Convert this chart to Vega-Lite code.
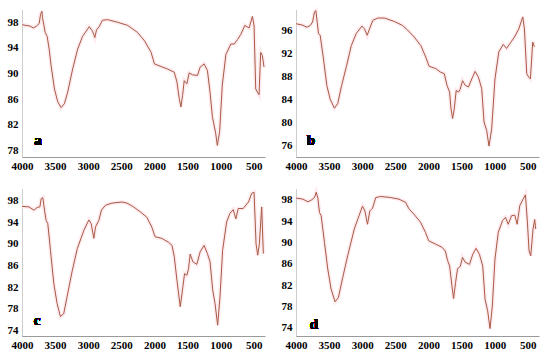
{
  "$schema": "https://vega.github.io/schema/vega-lite/v6.json",
  "background": "white",
  "padding": {"left": 7, "top": 2, "right": 4, "bottom": 2},
  "datasets": {
    "a": [
      {"wn": 4000, "t": 97.6}, {"wn": 3880, "t": 97.4}, {"wn": 3830, "t": 97.1}, {"wn": 3780, "t": 97.4},
      {"wn": 3740, "t": 97.8}, {"wn": 3720, "t": 99.2}, {"wn": 3700, "t": 99.7}, {"wn": 3690, "t": 98.7},
      {"wn": 3650, "t": 96.4}, {"wn": 3620, "t": 95.8}, {"wn": 3590, "t": 93.8}, {"wn": 3560, "t": 91.2},
      {"wn": 3510, "t": 87.6}, {"wn": 3460, "t": 85.6}, {"wn": 3410, "t": 84.7}, {"wn": 3360, "t": 85.3},
      {"wn": 3310, "t": 87.1}, {"wn": 3235, "t": 90.7}, {"wn": 3160, "t": 93.8}, {"wn": 3085, "t": 95.8},
      {"wn": 2985, "t": 97.3}, {"wn": 2935, "t": 96.6}, {"wn": 2900, "t": 95.6}, {"wn": 2875, "t": 96.8},
      {"wn": 2835, "t": 97.3}, {"wn": 2785, "t": 98.3}, {"wn": 2710, "t": 98.4}, {"wn": 2560, "t": 98.0},
      {"wn": 2405, "t": 97.5}, {"wn": 2255, "t": 96.4}, {"wn": 2150, "t": 95.1}, {"wn": 2050, "t": 93.3},
      {"wn": 2000, "t": 91.5}, {"wn": 1900, "t": 91.1}, {"wn": 1800, "t": 90.7}, {"wn": 1700, "t": 90.2},
      {"wn": 1660, "t": 88.7}, {"wn": 1625, "t": 86.1}, {"wn": 1600, "t": 84.8}, {"wn": 1575, "t": 86.6},
      {"wn": 1550, "t": 88.9}, {"wn": 1510, "t": 88.4}, {"wn": 1475, "t": 90.1}, {"wn": 1425, "t": 89.8},
      {"wn": 1350, "t": 89.7}, {"wn": 1310, "t": 91.0}, {"wn": 1250, "t": 91.5}, {"wn": 1200, "t": 90.5},
      {"wn": 1160, "t": 87.1}, {"wn": 1125, "t": 83.3}, {"wn": 1075, "t": 80.7}, {"wn": 1050, "t": 78.8},
      {"wn": 1015, "t": 81.0}, {"wn": 975, "t": 88.2}, {"wn": 920, "t": 93.0}, {"wn": 845, "t": 94.6},
      {"wn": 795, "t": 94.6}, {"wn": 745, "t": 95.3}, {"wn": 695, "t": 96.1}, {"wn": 635, "t": 97.5},
      {"wn": 570, "t": 97.1}, {"wn": 520, "t": 98.9}, {"wn": 495, "t": 97.4}, {"wn": 470, "t": 87.6},
      {"wn": 445, "t": 87.1}, {"wn": 420, "t": 86.7}, {"wn": 395, "t": 93.3}, {"wn": 370, "t": 92.8},
      {"wn": 345, "t": 91.0}
    ],
    "b": [
      {"wn": 4000, "t": 97.2}, {"wn": 3910, "t": 97.0}, {"wn": 3835, "t": 96.6}, {"wn": 3785, "t": 96.9},
      {"wn": 3750, "t": 97.5}, {"wn": 3720, "t": 99.3}, {"wn": 3700, "t": 99.5}, {"wn": 3680, "t": 97.5},
      {"wn": 3660, "t": 95.5}, {"wn": 3635, "t": 95.2}, {"wn": 3585, "t": 91.1}, {"wn": 3535, "t": 86.5},
      {"wn": 3485, "t": 84.1}, {"wn": 3420, "t": 82.5}, {"wn": 3370, "t": 83.3}, {"wn": 3310, "t": 86.5},
      {"wn": 3240, "t": 89.7}, {"wn": 3165, "t": 93.4}, {"wn": 3090, "t": 95.5}, {"wn": 3005, "t": 96.8},
      {"wn": 2965, "t": 96.3}, {"wn": 2925, "t": 95.2}, {"wn": 2890, "t": 96.3}, {"wn": 2840, "t": 97.8},
      {"wn": 2765, "t": 98.2}, {"wn": 2665, "t": 98.2}, {"wn": 2515, "t": 97.6}, {"wn": 2390, "t": 96.9},
      {"wn": 2315, "t": 96.1}, {"wn": 2215, "t": 94.9}, {"wn": 2115, "t": 93.4}, {"wn": 2040, "t": 91.4},
      {"wn": 1990, "t": 89.8}, {"wn": 1890, "t": 89.4}, {"wn": 1820, "t": 88.8}, {"wn": 1760, "t": 88.5},
      {"wn": 1720, "t": 86.5}, {"wn": 1680, "t": 85.3}, {"wn": 1660, "t": 82.5}, {"wn": 1635, "t": 80.7},
      {"wn": 1610, "t": 82.4}, {"wn": 1580, "t": 85.6}, {"wn": 1545, "t": 85.3}, {"wn": 1520, "t": 85.8},
      {"wn": 1485, "t": 87.3}, {"wn": 1445, "t": 86.5}, {"wn": 1395, "t": 86.2}, {"wn": 1345, "t": 87.6},
      {"wn": 1295, "t": 88.9}, {"wn": 1245, "t": 87.9}, {"wn": 1195, "t": 85.9}, {"wn": 1160, "t": 80.1},
      {"wn": 1120, "t": 78.6}, {"wn": 1085, "t": 75.9}, {"wn": 1045, "t": 78.9}, {"wn": 995, "t": 87.6},
      {"wn": 937, "t": 92.3}, {"wn": 870, "t": 93.6}, {"wn": 820, "t": 92.9}, {"wn": 760, "t": 93.9},
      {"wn": 700, "t": 94.9}, {"wn": 635, "t": 96.3}, {"wn": 575, "t": 98.4}, {"wn": 550, "t": 96.3},
      {"wn": 515, "t": 88.5}, {"wn": 485, "t": 87.9}, {"wn": 460, "t": 87.6}, {"wn": 425, "t": 94.0},
      {"wn": 400, "t": 93.2}
    ],
    "c": [
      {"wn": 4000, "t": 96.9}, {"wn": 3895, "t": 96.8}, {"wn": 3820, "t": 96.2}, {"wn": 3770, "t": 96.7},
      {"wn": 3730, "t": 96.8}, {"wn": 3710, "t": 98.3}, {"wn": 3685, "t": 98.5}, {"wn": 3660, "t": 96.2},
      {"wn": 3635, "t": 94.3}, {"wn": 3610, "t": 93.7}, {"wn": 3570, "t": 88.8}, {"wn": 3520, "t": 82.7},
      {"wn": 3470, "t": 79.0}, {"wn": 3420, "t": 76.6}, {"wn": 3370, "t": 77.1}, {"wn": 3320, "t": 80.2},
      {"wn": 3240, "t": 85.1}, {"wn": 3165, "t": 89.1}, {"wn": 3065, "t": 92.5}, {"wn": 2990, "t": 94.4},
      {"wn": 2955, "t": 93.7}, {"wn": 2915, "t": 91.0}, {"wn": 2890, "t": 93.1}, {"wn": 2840, "t": 94.3},
      {"wn": 2800, "t": 96.2}, {"wn": 2740, "t": 97.1}, {"wn": 2640, "t": 97.5}, {"wn": 2490, "t": 97.7},
      {"wn": 2415, "t": 97.5}, {"wn": 2315, "t": 96.8}, {"wn": 2215, "t": 95.9}, {"wn": 2115, "t": 94.9},
      {"wn": 2040, "t": 93.1}, {"wn": 1990, "t": 91.3}, {"wn": 1890, "t": 91.0}, {"wn": 1790, "t": 90.3},
      {"wn": 1735, "t": 89.7}, {"wn": 1700, "t": 87.6}, {"wn": 1660, "t": 83.3}, {"wn": 1610, "t": 78.4},
      {"wn": 1570, "t": 82.1}, {"wn": 1545, "t": 84.5}, {"wn": 1510, "t": 84.2}, {"wn": 1485, "t": 85.4},
      {"wn": 1460, "t": 88.1}, {"wn": 1420, "t": 86.7}, {"wn": 1360, "t": 86.2}, {"wn": 1310, "t": 88.5},
      {"wn": 1250, "t": 89.7}, {"wn": 1200, "t": 88.2}, {"wn": 1160, "t": 86.7}, {"wn": 1120, "t": 81.5},
      {"wn": 1085, "t": 79.0}, {"wn": 1045, "t": 75.0}, {"wn": 1010, "t": 80.2}, {"wn": 970, "t": 88.8},
      {"wn": 910, "t": 94.0}, {"wn": 860, "t": 95.6}, {"wn": 810, "t": 96.3}, {"wn": 770, "t": 94.6},
      {"wn": 735, "t": 96.5}, {"wn": 660, "t": 96.5}, {"wn": 580, "t": 97.7}, {"wn": 530, "t": 99.3},
      {"wn": 495, "t": 99.5}, {"wn": 465, "t": 90.0}, {"wn": 440, "t": 87.9}, {"wn": 415, "t": 90.0},
      {"wn": 380, "t": 96.8}, {"wn": 355, "t": 88.2}
    ],
    "d": [
      {"wn": 4000, "t": 98.3}, {"wn": 3895, "t": 98.1}, {"wn": 3820, "t": 97.6}, {"wn": 3760, "t": 98.0},
      {"wn": 3720, "t": 98.4}, {"wn": 3695, "t": 99.4}, {"wn": 3670, "t": 98.3}, {"wn": 3645, "t": 95.6},
      {"wn": 3620, "t": 95.0}, {"wn": 3570, "t": 90.0}, {"wn": 3520, "t": 85.0}, {"wn": 3470, "t": 81.3},
      {"wn": 3410, "t": 78.9}, {"wn": 3360, "t": 79.7}, {"wn": 3295, "t": 83.4}, {"wn": 3220, "t": 87.5},
      {"wn": 3120, "t": 92.5}, {"wn": 3045, "t": 95.1}, {"wn": 2995, "t": 96.8}, {"wn": 2960, "t": 95.9},
      {"wn": 2920, "t": 93.4}, {"wn": 2885, "t": 95.9}, {"wn": 2845, "t": 96.4}, {"wn": 2795, "t": 98.4},
      {"wn": 2720, "t": 98.6}, {"wn": 2570, "t": 98.4}, {"wn": 2445, "t": 98.1}, {"wn": 2345, "t": 97.5},
      {"wn": 2295, "t": 96.3}, {"wn": 2220, "t": 95.3}, {"wn": 2120, "t": 93.8}, {"wn": 2045, "t": 91.9},
      {"wn": 1995, "t": 90.3}, {"wn": 1895, "t": 89.7}, {"wn": 1795, "t": 89.1}, {"wn": 1745, "t": 88.4},
      {"wn": 1710, "t": 86.6}, {"wn": 1680, "t": 85.6}, {"wn": 1645, "t": 81.9}, {"wn": 1620, "t": 79.5},
      {"wn": 1590, "t": 82.5}, {"wn": 1560, "t": 85.1}, {"wn": 1520, "t": 85.5}, {"wn": 1485, "t": 87.2},
      {"wn": 1445, "t": 86.3}, {"wn": 1380, "t": 85.9}, {"wn": 1330, "t": 87.8}, {"wn": 1280, "t": 88.9},
      {"wn": 1230, "t": 87.8}, {"wn": 1180, "t": 85.6}, {"wn": 1145, "t": 79.4}, {"wn": 1105, "t": 77.2},
      {"wn": 1070, "t": 73.9}, {"wn": 1035, "t": 78.1}, {"wn": 995, "t": 86.9}, {"wn": 945, "t": 91.9},
      {"wn": 880, "t": 94.1}, {"wn": 835, "t": 94.7}, {"wn": 795, "t": 93.4}, {"wn": 745, "t": 95.0},
      {"wn": 695, "t": 95.1}, {"wn": 660, "t": 93.4}, {"wn": 620, "t": 96.9}, {"wn": 570, "t": 98.1},
      {"wn": 535, "t": 98.9}, {"wn": 505, "t": 93.8}, {"wn": 480, "t": 88.4}, {"wn": 455, "t": 87.5},
      {"wn": 420, "t": 92.5}, {"wn": 395, "t": 94.3}, {"wn": 380, "t": 92.5}
    ]
  },
  "columns": 2,
  "bounds": "flush",
  "spacing": {"row": 32, "column": 31},
  "concat": [
    {
      "width": 243, "height": 147,
      "data": {"name": "a"},
      "encoding": {
        "x": {"field": "wn", "type": "quantitative", "scale": {"domain": [330, 4000], "reverse": true, "nice": false, "zero": false}, "axis": {"values": [4000, 3500, 3000, 2500, 2000, 1500, 1000, 500], "title": null, "format": "d", "labelOverlap": false}},
        "y": {"field": "t", "type": "quantitative", "scale": {"domain": [77, 99.9], "nice": false, "zero": false}, "axis": {"values": [78, 82, 86, 90, 94, 98], "title": null, "format": "d", "labelOverlap": false}}
      },
      "layer": [
        {"mark": {"type": "line", "color": "#fbdde5", "strokeWidth": 4, "opacity": 0.6}},
        {"mark": {"type": "line", "color": "#a85a44", "strokeWidth": 1}},
        {"mark": {"type": "text", "text": "a", "font": "Liberation Serif", "fontWeight": "bold", "fontSize": 15, "color": "#000000"},
         "encoding": {"x": {"datum": 3758}, "y": {"datum": 79.6}}}
      ]
    },
    {
      "width": 243, "height": 147,
      "data": {"name": "b"},
      "encoding": {
        "x": {"field": "wn", "type": "quantitative", "scale": {"domain": [330, 4000], "reverse": true, "nice": false, "zero": false}, "axis": {"values": [4000, 3500, 3000, 2500, 2000, 1500, 1000, 500], "title": null, "format": "d", "labelOverlap": false}},
        "y": {"field": "t", "type": "quantitative", "scale": {"domain": [74, 99.6], "nice": false, "zero": false}, "axis": {"values": [76, 80, 84, 88, 92, 96], "title": null, "format": "d", "labelOverlap": false}}
      },
      "layer": [
        {"mark": {"type": "line", "color": "#fbdde5", "strokeWidth": 4, "opacity": 0.6}},
        {"mark": {"type": "line", "color": "#a85a44", "strokeWidth": 1}},
        {"mark": {"type": "text", "text": "b", "font": "Liberation Serif", "fontWeight": "bold", "fontSize": 15, "color": "#000000"},
         "encoding": {"x": {"datum": 3773}, "y": {"datum": 76.9}}}
      ]
    },
    {
      "width": 243, "height": 147,
      "data": {"name": "c"},
      "encoding": {
        "x": {"field": "wn", "type": "quantitative", "scale": {"domain": [330, 4000], "reverse": true, "nice": false, "zero": false}, "axis": {"values": [4000, 3500, 3000, 2500, 2000, 1500, 1000, 500], "title": null, "format": "d", "labelOverlap": false}},
        "y": {"field": "t", "type": "quantitative", "scale": {"domain": [73, 100.1], "nice": false, "zero": false}, "axis": {"values": [74, 78, 82, 86, 90, 94, 98], "title": null, "format": "d", "labelOverlap": false}}
      },
      "layer": [
        {"mark": {"type": "line", "color": "#fbdde5", "strokeWidth": 4, "opacity": 0.6}},
        {"mark": {"type": "line", "color": "#a85a44", "strokeWidth": 1}},
        {"mark": {"type": "text", "text": "c", "font": "Liberation Serif", "fontWeight": "bold", "fontSize": 15, "color": "#000000"},
         "encoding": {"x": {"datum": 3773}, "y": {"datum": 76.0}}}
      ]
    },
    {
      "width": 243, "height": 147,
      "data": {"name": "d"},
      "encoding": {
        "x": {"field": "wn", "type": "quantitative", "scale": {"domain": [330, 4000], "reverse": true, "nice": false, "zero": false}, "axis": {"values": [4000, 3500, 3000, 2500, 2000, 1500, 1000, 500], "title": null, "format": "d", "labelOverlap": false}},
        "y": {"field": "t", "type": "quantitative", "scale": {"domain": [72.5, 100], "nice": false, "zero": false}, "axis": {"values": [74, 78, 82, 86, 90, 94, 98], "title": null, "format": "d", "labelOverlap": false}}
      },
      "layer": [
        {"mark": {"type": "line", "color": "#fbdde5", "strokeWidth": 4, "opacity": 0.6}},
        {"mark": {"type": "line", "color": "#a85a44", "strokeWidth": 1}},
        {"mark": {"type": "text", "text": "d", "font": "Liberation Serif", "fontWeight": "bold", "fontSize": 15, "color": "#000000"},
         "encoding": {"x": {"datum": 3730}, "y": {"datum": 74.7}}}
      ]
    }
  ],
  "config": {
    "view": {"stroke": null},
    "axis": {
      "grid": false,
      "ticks": false,
      "labelFont": "Liberation Serif",
      "labelFontWeight": "bold",
      "labelFontSize": 11,
      "labelColor": "#000000",
      "labelFlush": false,
      "labelOverlap": false,
      "domainColor": "#9a9a9a",
      "domainWidth": 1
    },
    "axisY": {"domainDash": [1, 1], "labelPadding": 4},
    "axisX": {"labelPadding": 3}
  }
}
